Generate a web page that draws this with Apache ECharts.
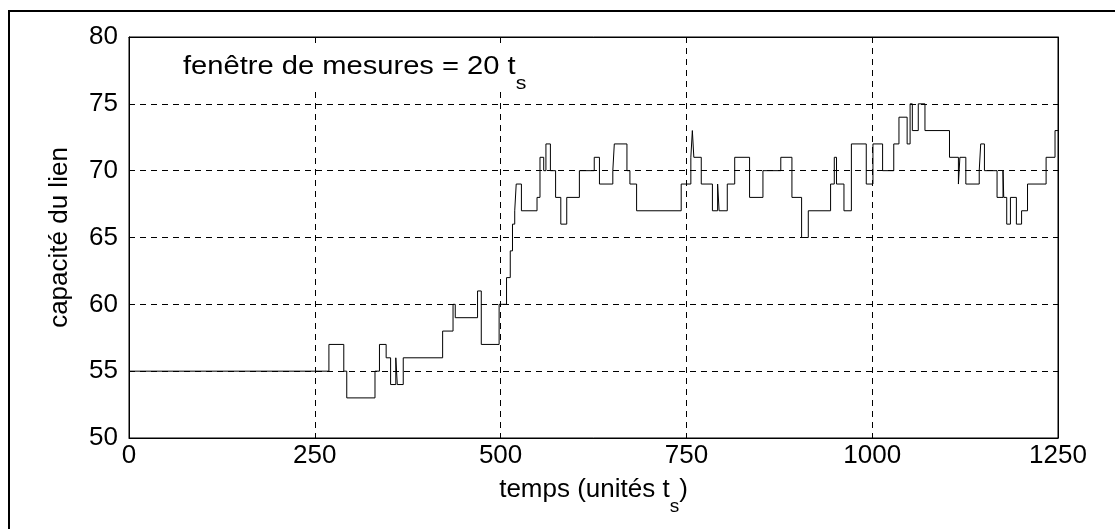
<!DOCTYPE html>
<html><head><meta charset="utf-8">
<script src="https://cdn.jsdelivr.net/npm/echarts@6/dist/echarts.min.js"></script>
<style>html,body{margin:0;padding:0;background:#fff}#c{width:1115px;height:529px}</style>
</head><body><div id="c"></div>
<script>
// Step changes: at each time the capacity jumps to the given value
const stepTimes = [0, 269, 289, 293, 331, 337, 346, 352, 359, 361, 369, 422, 436, 439, 469, 474, 498, 508, 513, 516, 519, 521, 528, 549, 553, 558, 561, 567, 574, 581, 589, 606, 626, 633, 651, 653, 670, 674, 683, 743, 756, 758, 760, 770, 785, 792, 794, 805, 815, 835, 853, 877, 892, 905, 914, 944, 949, 952, 962, 972, 992, 1001, 1014, 1029, 1036, 1047, 1051, 1054, 1062, 1071, 1104, 1116, 1118, 1126, 1144, 1146, 1151, 1168, 1176, 1177, 1181, 1186, 1194, 1201, 1209, 1234, 1246, 1250];
const stepValues = [55, 57, 55, 53, 55, 57, 56, 54, 56, 54, 56, 58, 60, 59, 61, 57, 60, 62, 64, 66, 67, 69, 67, 68, 71, 70, 72, 70, 68, 66, 68, 70, 71, 69, 70, 72, 70, 69, 67, 69, 71, 73, 71, 69, 67, 69, 67, 69, 71, 68, 70, 71, 68, 65, 67, 69, 71, 69, 67, 72, 69, 72, 70, 72, 74, 72, 75, 73, 75, 73, 71, 69, 71, 69, 70, 72, 70, 68, 70, 68, 66, 68, 66, 67, 69, 71, 73, 73];
const xTickValues = [0, 250, 500, 750, 1000, 1250];
const yTickValues = [50, 55, 60, 65, 70, 75, 80];
const xAxisTitle = '{a|temps (unités t}{s|s}{a|)}';
const yAxisTitle = 'capacité du lien';
const annotation = '{a|fenêtre de mesures = 20 t}{s|s}';

const FF = '"Liberation Sans", Arial, sans-serif';
const data = stepTimes.map((t, i) => [t, stepValues[i]]);

const chart = echarts.init(document.getElementById('c'), null, {renderer: 'canvas'});
const axisCommon = {
  axisLine: {show: true, onZero: false, lineStyle: {color: '#000', width: 1}},
  axisTick: {show: true, inside: true, length: 5, lineStyle: {color: '#000'}}
};
chart.setOption({
  animation: false,
  backgroundColor: '#fff',
  grid: {left: 129, right: 57, top: 37, bottom: 91, show: true, borderColor: '#000', borderWidth: 1},
  xAxis: [
    Object.assign({
      type: 'value', min: xTickValues[0], max: xTickValues[xTickValues.length - 1], interval: 250, position: 'bottom',
      axisLabel: {color: '#000', fontSize: 26, fontFamily: FF, margin: 5, showMinLabel: true, showMaxLabel: true,
        formatter: v => String(v)},
      splitLine: {show: true, lineStyle: {type: [6, 5], color: '#000', width: 1}},
      name: xAxisTitle, nameLocation: 'middle', nameGap: 26,
      nameTextStyle: {rich: {
        a: {fontSize: 26, fontFamily: FF, color: '#000', lineHeight: 52},
        s: {fontSize: 19, fontFamily: FF, color: '#000', lineHeight: 18, verticalAlign: 'bottom'}
      }}
    }, axisCommon),
    Object.assign({
      type: 'value', min: 0, max: 1250, interval: 250, position: 'top',
      axisLabel: {show: false}, splitLine: {show: false}
    }, axisCommon)
  ],
  yAxis: [
    Object.assign({
      type: 'value', min: yTickValues[0], max: yTickValues[yTickValues.length - 1], interval: 5, position: 'left',
      axisLabel: {color: '#000', fontSize: 26, fontFamily: FF, margin: 11, formatter: v => String(v)},
      splitLine: {show: true, lineStyle: {type: [6, 5], color: '#000', width: 1}},
      name: yAxisTitle, nameLocation: 'middle', nameGap: 56,
      nameTextStyle: {fontSize: 26, fontFamily: FF, color: '#000'}
    }, axisCommon),
    Object.assign({
      type: 'value', min: 50, max: 80, interval: 5, position: 'right',
      axisLabel: {show: false}, splitLine: {show: false}
    }, axisCommon)
  ],
  series: [{
    type: 'line', step: 'end', data: data, symbol: 'none', xAxisIndex: 0, yAxisIndex: 0,
    lineStyle: {color: '#000', width: 1}, z: 5
  }],
  graphic: [
    {type: 'rect', shape: {x: 9, y: 11, width: 1300, height: 700}, style: {fill: 'none', stroke: '#000', lineWidth: 2}, silent: true},
    {type: 'rect', z: 10, silent: true, shape: {x: 176, y: 43, width: 352, height: 49}, style: {fill: '#fff'}},
    {type: 'text', x: 183, y: 41, scaleX: 1.12, z: 11, style: {
      text: annotation,
      rich: {
        a: {fontSize: 26, fontFamily: FF, fill: '#000', lineHeight: 52},
        s: {fontSize: 19, fontFamily: FF, fill: '#000', lineHeight: 18, verticalAlign: 'bottom'}
      }
    }}
  ]
});
</script></body></html>
